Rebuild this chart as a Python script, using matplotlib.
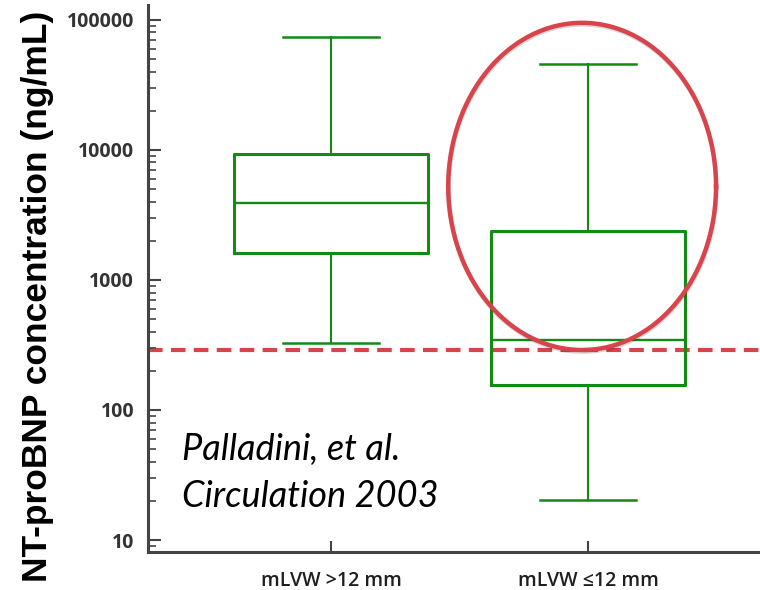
import numpy as np
import matplotlib
matplotlib.use("Agg")
import matplotlib.pyplot as plt
import matplotlib.patheffects as pe
from matplotlib.ticker import FixedLocator, LogLocator, NullFormatter

# data
groups = ["mLVW >12 mm", "mLVW \u226412 mm"]
whisker_low = [328, 20.3]
q1 = [1610, 156]
median = [3900, 345]
q3 = [9350, 2380]
whisker_high = [74000, 46000]
cutoff = 290
citation = ["Palladini, et al.", "Circulation 2003"]

green = "#138a13"
red = "#d9434b"
dark = "#333333"

fig = plt.figure(figsize=(7.6, 5.9), dpi=100)
ax = fig.add_axes([0.1947, 0.0644, 0.8053, 0.9271])

stats = []
for i in range(len(groups)):
    stats.append({
        "label": groups[i],
        "whislo": whisker_low[i],
        "q1": q1[i],
        "med": median[i],
        "q3": q3[i],
        "whishi": whisker_high[i],
        "fliers": [],
    })

ax.bxp(
    stats,
    positions=[1, 2],
    widths=0.755,
    capwidths=0.374,
    showfliers=False,
    boxprops=dict(color=green, linewidth=2.2),
    whiskerprops=dict(color=green, linewidth=1.5),
    capprops=dict(color=green, linewidth=1.8),
    medianprops=dict(color=green, linewidth=1.7),
)

ax.set_yscale("log")
ax.set_ylim(8.09, 130000)
ax.set_xlim(0.288, 2.669)

# cutoff line
ax.axhline(cutoff, color=red, linewidth=3, dashes=(3.5, 2), zorder=1)

# highlight ellipse round the second group (ellipse in log space)
t = np.linspace(0, 2 * np.pi, 400)
ex = 1.977 + 0.521 * np.cos(t)
ey = 10 ** (3.719 + 1.258 * np.sin(t))
ax.plot(ex, ey, color=red, linewidth=3.2, zorder=5,
        path_effects=[pe.SimpleLineShadow(offset=(0.3, -1.2), alpha=0.15),
                      pe.Normal()])

# axes styling
for side in ["top", "right"]:
    ax.spines[side].set_visible(False)
for side in ["left", "bottom"]:
    ax.spines[side].set_linewidth(2.2)
    ax.spines[side].set_color("#444444")

ax.yaxis.set_major_locator(FixedLocator([10, 100, 1000, 10000, 100000]))
ax.yaxis.set_minor_locator(LogLocator(base=10, subs=np.arange(2, 10)))
ax.yaxis.set_minor_formatter(NullFormatter())
ax.set_yticklabels(["10", "100", "1000", "10000", "100000"])
ax.tick_params(axis="y", which="major", direction="in", length=9, width=1.5,
               color="#444444", pad=10)
ax.tick_params(axis="y", which="minor", direction="in", length=6, width=1.2,
               color="#444444")
ax.tick_params(axis="x", which="major", direction="in", length=8, width=1.5,
               color="#444444", pad=14)

for lbl in ax.get_yticklabels():
    lbl.set_family("Open Sans")
    lbl.set_weight("bold")
    lbl.set_fontsize(14)
    lbl.set_color(dark)

ax.set_xticks([1, 2])
ax.set_xticklabels(groups, family="Open Sans", fontsize=14, weight="semibold",
                   color="#1e1e1e")

fig.text(0.049, 0.497, "NT-proBNP concentration (ng/mL)", rotation=90,
         family="Liberation Sans", weight="bold", fontsize=25.5,
         ha="center", va="center")

# citation, one line per call
ax.text(0.42, 41.2, citation[0], family="Lato", style="italic",
        fontsize=26, va="baseline", ha="left")
ax.text(0.42, 17.9, citation[1], family="Lato", style="italic",
        fontsize=26, va="baseline", ha="left")

fig.savefig("out.png", dpi=100)
